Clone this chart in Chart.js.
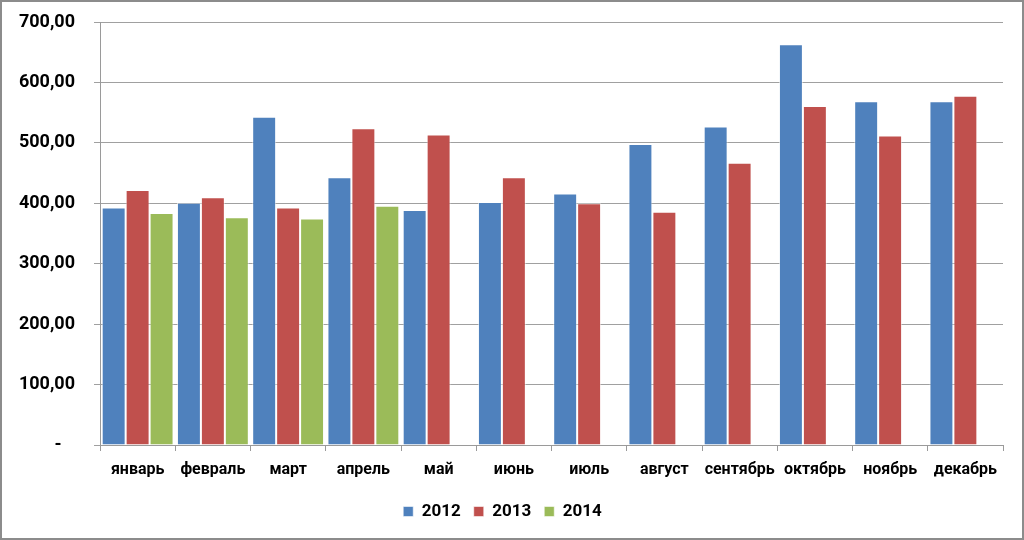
<!DOCTYPE html>
<html>
<head>
<meta charset="utf-8">
<script src="https://cdn.jsdelivr.net/npm/chart.js@4/dist/chart.umd.min.js"></script>
<style>
  html, body { margin: 0; padding: 0; background: #fff; }
  #wrap {
    width: 1024px; height: 540px; box-sizing: border-box;
    border: 2px solid #8c8c8c; background: #fff;
  }
  canvas { display: block; }
</style>
</head>
<body>
<div id="wrap"><canvas id="monthChart" width="1020" height="536"></canvas></div>
<script>
const months = ['январь', 'февраль', 'март', 'апрель', 'май', 'июнь',
  'июль', 'август', 'сентябрь', 'октябрь', 'ноябрь', 'декабрь']
const values2012 = [393, 401, 543, 443, 389, 402, 416, 498, 527, 663, 569, 569]
const values2013 = [422, 410, 393, 524, 514, 443, 400, 386, 467, 561, 512, 578]
const values2014 = [384, 377, 375, 396, null, null, null, null, null, null, null, null]

function bar(label, data, color) {
  return {
    label,
    data,
    backgroundColor: color,
    borderColor: 'rgba(255,255,255,0.55)',
    borderWidth: 1,
    categoryPercentage: 0.955,
    barPercentage: 1.0,
  }
}

const ctx = document.getElementById('monthChart').getContext('2d')
new Chart(ctx, {
  type: 'bar',
  data: {
    labels: months,
    datasets: [
      bar('2012', values2012, '#4F81BD'),
      bar('2013', values2013, '#C0504D'),
      bar('2014', values2014, '#9BBB59'),
    ],
  },
  options: {
    responsive: false,
    animation: false,
    layout: { padding: { top: 20, right: 19, bottom: 8, left: 0 } },
    scales: {
      x: {
        grid: { display: true, drawOnChartArea: false, color: '#9a9a9a', tickLength: 6, offset: true },
        border: { color: '#9a9a9a' },
        ticks: { color: '#000', font: { family: 'Roboto', weight: 'bold', size: 16 }, padding: 9, maxRotation: 0, autoSkip: false },
        afterFit: (s) => { s.height = 45 },
      },
      y: {
        min: 0,
        max: 700,
        grid: { color: '#a0a0a0', tickLength: 6 },
        border: { color: '#9a9a9a' },
        ticks: {
          stepSize: 100,
          color: '#000',
          font: { family: 'Roboto', weight: 'bold', size: 18 },
          padding: 19,
          callback: (v) => (v === 0 ? '-   ' : v.toFixed(2).replace('.', ',')),
        },
        afterFit: (s) => {
          s.width = 98
          s.paddingTop = 10
          s.paddingBottom = 0
        },
      },
    },
    plugins: {
      legend: {
        position: 'bottom',
        labels: { color: '#000', font: { family: 'Roboto', weight: 'bold', size: 17 }, boxWidth: 10, boxHeight: 10, padding: 13 },
      },
      tooltip: { enabled: false },
    },
  },
})
</script>
</body>
</html>
